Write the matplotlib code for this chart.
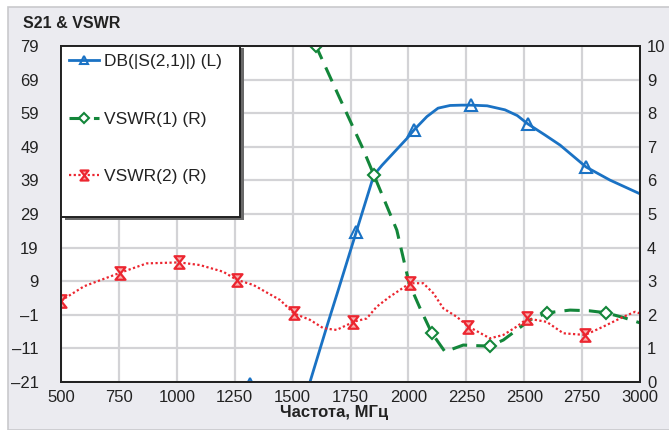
import matplotlib.pyplot as plt
import numpy as np
from matplotlib.path import Path
from matplotlib.patches import Rectangle

# S21, dB (left axis)
s21_freq = [500, 700, 900, 1100, 1250, 1316, 1360, 1420, 1500, 1575, 1650, 1700, 1774, 1851, 1886, 1940,
            1994, 2024, 2080, 2128, 2180, 2230, 2270, 2340, 2417, 2470, 2516, 2590, 2655, 2767, 2870, 3000]
s21_db = [-48, -40, -33, -27, -23, -21.6, -22.5, -26, -30, -21, -4, 7, 23.5, 40.6, 43.5, 47.5,
          51.5, 54, 58, 60.5, 61.3, 61.4, 61.4, 61.2, 60, 58.3, 55.8, 52.5, 49.5, 43, 39.1, 35]
s21_marks = [1316, 1774, 2024, 2270, 2516, 2767]

# VSWR(1) (right axis)
vswr1_freq = [1560, 1601, 1700, 1800, 1851, 1900, 1950, 2003, 2050, 2100, 2158, 2237, 2300, 2352,
              2410, 2468, 2525, 2600, 2698, 2780, 2853, 2928, 3000]
vswr1 = [10.7, 10, 8.5, 7.0, 6.16, 5.35, 4.52, 2.94, 2.2, 1.47, 0.90, 1.10, 1.08, 1.07,
         1.25, 1.55, 1.85, 2.06, 2.14, 2.12, 2.06, 1.92, 1.76]
vswr1_marks = [1601, 1851, 2100, 2352, 2600, 2853]

# VSWR(2) (right axis)
vswr2_freq = [500, 600, 755, 870, 1010, 1100, 1201, 1259, 1330, 1446, 1506, 1575, 1633, 1690, 1748,
              1760, 1820, 1863, 1920, 2007, 2064, 2108, 2151, 2209, 2259, 2352, 2410, 2468, 2514,
              2597, 2669, 2763, 2842, 2928, 2979, 3000]
vswr2 = [2.42, 2.85, 3.25, 3.53, 3.56, 3.48, 3.28, 3.04, 2.89, 2.44, 2.04, 1.85, 1.60, 1.55, 1.74,
         1.79, 1.89, 2.24, 2.54, 2.94, 2.94, 2.64, 2.19, 1.94, 1.65, 1.30, 1.40, 1.65, 1.89,
         1.79, 1.45, 1.40, 1.65, 1.94, 2.09, 2.04]
vswr2_marks = [500, 755, 1010, 1259, 1506, 1760, 2007, 2259, 2514, 2763]

x_ticks = [500, 750, 1000, 1250, 1500, 1750, 2000, 2250, 2500, 2750, 3000]
left_ticks = [-21, -11, -1, 9, 19, 29, 39, 49, 59, 69, 79]
right_ticks = [0, 1, 2, 3, 4, 5, 6, 7, 8, 9, 10]

labels = ['DB(|S(2,1)|) (L)', 'VSWR(1) (R)', 'VSWR(2) (R)']

BLUE = '#1a72c4'
GREEN = '#13863a'
RED = '#ec2630'

plt.rcParams['font.family'] = ['Liberation Sans', 'DejaVu Sans']


def mark_idx(freq, marks):
    return [int(i) for i in np.where(np.isin(freq, marks))[0]]


# hourglass marker
hourglass = Path([(-0.8, 1), (0.8, 1), (-0.8, -1), (0.8, -1), (-0.8, 1)],
                 [Path.MOVETO, Path.LINETO, Path.LINETO, Path.LINETO, Path.CLOSEPOLY])

fig = plt.figure(figsize=(6.69, 4.30), dpi=100)
fig.patch.set_facecolor('white')
fig.patches.append(Rectangle((8 / 669, 0), 1, 1 - 7 / 430, transform=fig.transFigure,
                             facecolor='#ebebf0', edgecolor='#c9c9cc', linewidth=1.2, zorder=-10))

ax = fig.add_axes([61 / 669, 48 / 430, 579 / 669, 336 / 430])
ax.set_facecolor('white')
ax2 = ax.twinx()

l1, = ax.plot(s21_freq, s21_db, color=BLUE, lw=2, marker='^', markersize=8, mfc='none',
              mew=1.5, markevery=mark_idx(s21_freq, s21_marks))
l2, = ax2.plot(vswr1_freq, vswr1, color=GREEN, lw=2.2, dashes=(5, 3), marker='D', markersize=6.5,
               mfc='white', mew=1.5, markevery=mark_idx(vswr1_freq, vswr1_marks))
l3, = ax2.plot(vswr2_freq, vswr2, color=RED, lw=1.6, dashes=(1, 1.1), marker=hourglass, markersize=9,
               mfc='#f8b0b0', mew=1.6, markevery=mark_idx(vswr2_freq, vswr2_marks))

ax.set_xlim(500, 3000)
ax.set_ylim(-21, 79)
ax2.set_ylim(0, 10)
ax.set_xticks(x_ticks)
ax.set_yticks(left_ticks)
ax2.set_yticks(right_ticks)
ax.set_yticklabels([str(v).replace('-', '\u2013') for v in left_ticks])

ax.grid(True, color='#d3d3d6', lw=1.6)
ax.set_axisbelow(True)

ax.tick_params(axis='x', length=0, pad=6, labelsize=12, labelcolor='#222222')
ax.tick_params(axis='y', length=0, pad=16, labelsize=12, labelcolor='#222222')
ax2.tick_params(axis='y', length=0, pad=5, labelsize=12, labelcolor='#222222')
for a in (ax, ax2):
    for s in a.spines.values():
        s.set_color('#222222')
        s.set_linewidth(1.4)

# legend box with shadow
ax2.add_patch(Rectangle((0.007, 0.482), 0.309, 0.513, transform=ax2.transAxes,
                        facecolor='#6a6a6a', edgecolor='none', zorder=5, clip_on=False))
ax2.add_patch(Rectangle((0, 0.491), 0.309, 0.509, transform=ax2.transAxes,
                        facecolor='white', edgecolor='#222222', lw=1.4, zorder=6, clip_on=False))
leg = ax2.legend([l1, l2, l3], labels, loc='upper left', bbox_to_anchor=(0.0, 1.0),
                 frameon=False, fontsize=12.5, labelspacing=2.45, handlelength=1.75,
                 handletextpad=0.25, borderpad=0.2, borderaxespad=0.25, markerscale=0.8)
leg.set_zorder(7)
for t in leg.get_texts():
    t.set_color('#222222')

fig.text(23 / 669, 1 - 24 / 430, 'S21 & VSWR', fontsize=11.5, fontweight='bold', va='center',
         ha='left', color='#222222', family=['Liberation Sans Narrow', 'Liberation Sans'])
fig.text(334 / 669, 1 - 412 / 430, 'Частота, МГц', fontsize=12, fontweight='bold', va='center',
         ha='center', color='#222222', family=['Liberation Sans Narrow', 'Liberation Sans'])

plt.savefig('out.png', dpi=100)
